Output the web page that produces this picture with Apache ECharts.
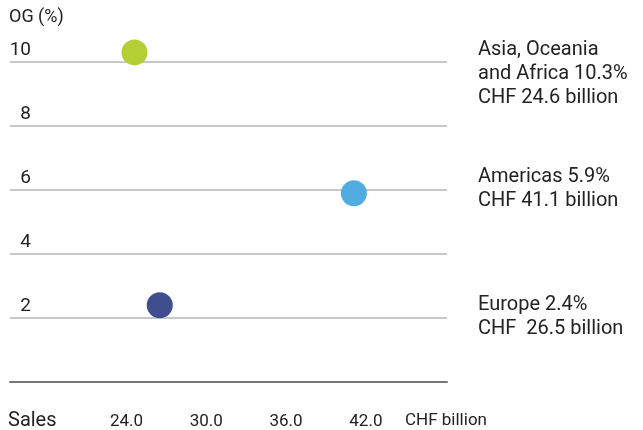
<!DOCTYPE html>
<html>
<head>
<meta charset="utf-8">
<script src="https://cdn.jsdelivr.net/npm/echarts@6/dist/echarts.min.js"></script>
<style>
  html, body { margin: 0; padding: 0; background: #fff; }
  #main { width: 643px; height: 430px; }
</style>
</head>
<body>
<div id="main"></div>
<script>
// regions: sales (CHF billion) vs organic growth (%)
var regions = ['Asia, Oceania and Africa', 'Americas', 'Europe'];
var sales = [24.6, 41.1, 26.5];
var growth = [10.3, 5.9, 2.4];
var colors = ['#b3cf36', '#51ade1', '#3e4e8f'];
var xTicks = [24, 30, 36, 42];
var yTicks = [2, 4, 6, 8, 10];

var font = 'Roboto, "Liberation Sans", sans-serif';

// 右侧说明文字
var notes = [
  { y: 38, lines: ['Asia, Oceania', 'and Africa ' + growth[0] + '%', 'CHF ' + sales[0] + ' billion'] },
  { y: 165, lines: ['Americas ' + growth[1] + '%', 'CHF ' + sales[1] + ' billion'] },
  { y: 293, lines: ['Europe ' + growth[2] + '%', 'CHF  ' + sales[2] + ' billion'] }
];

var graphics = [
  { type: 'text', left: 9, top: 8, style: { text: 'OG (%)', fontSize: 18, fontFamily: font, fill: '#222' } },
  { type: 'text', left: 8, top: 411, style: { text: 'Sales', fontSize: 20, fontFamily: font, fill: '#222' } },
  { type: 'text', left: 405, top: 412, style: { text: 'CHF billion', fontSize: 17, fontFamily: font, fill: '#222' } }
];
notes.forEach(function (n) {
  graphics.push({
    type: 'text', left: 478, top: n.y,
    style: { text: n.lines.join('\n'), fontSize: 20, lineHeight: 24, fontFamily: font, fill: '#222' }
  });
});

var option = {
  animation: false,
  grid: { left: 10, right: 196, top: 62, bottom: 47 },
  xAxis: {
    type: 'value',
    min: 15.24,
    max: 48.1,
    axisLine: { show: true, onZero: false, lineStyle: { color: '#777', width: 2 } },
    axisTick: { show: false },
    splitLine: { show: false },
    axisLabel: {
      customValues: xTicks,
      margin: 31,
      fontSize: 17,
      fontFamily: font,
      color: '#222',
      formatter: function (v) { return v.toFixed(1); }
    }
  },
  yAxis: {
    type: 'value',
    min: 0,
    max: 10,
    interval: 2,
    axisLine: { show: false },
    axisTick: { show: false },
    splitLine: { lineStyle: { color: '#c8c8c8', width: 2 } },
    axisLabel: {
      margin: -21,
      verticalAlign: 'bottom',
      padding: [0, 0, 2, 0],
      fontSize: 19,
      fontFamily: font,
      color: '#222',
      formatter: function (v) { return yTicks.indexOf(v) >= 0 ? String(v) : ''; }
    }
  },
  series: [{
    type: 'scatter',
    clip: false,
    symbolSize: 26,
    itemStyle: { opacity: 1 },
    data: sales.map(function (s, i) {
      return { name: regions[i], value: [s, growth[i]], itemStyle: { color: colors[i] } };
    })
  }],
  graphic: graphics
};

var myChart = echarts.init(document.getElementById('main'));
myChart.setOption(option);
</script>
</body>
</html>
